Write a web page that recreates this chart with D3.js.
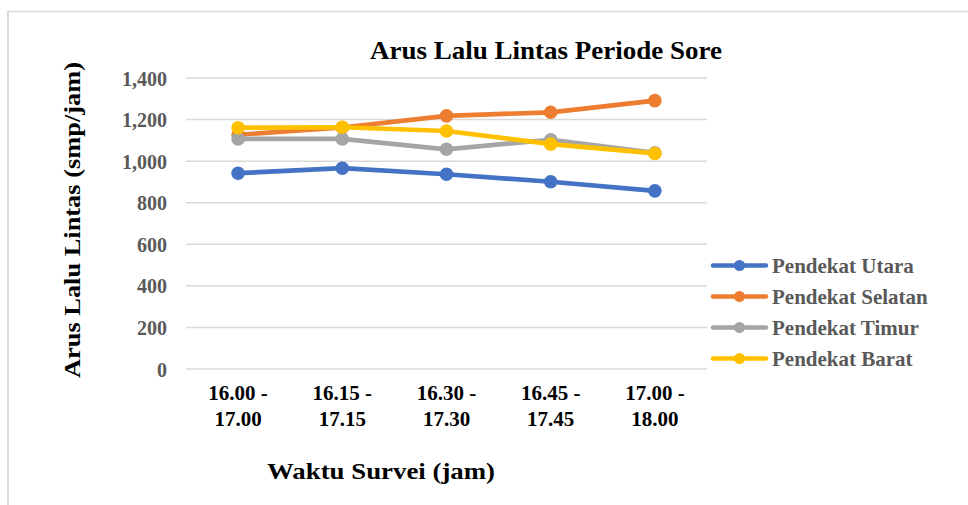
<!DOCTYPE html>
<html>
<head>
<meta charset="utf-8">
<script src="https://cdn.jsdelivr.net/npm/d3@7/dist/d3.min.js"></script>
<style>
  html, body { margin: 0; padding: 0; background: #fff; }
  svg { display: block; }
</style>
</head>
<body>
<svg id="chart" width="968" height="505"></svg>
<script>
// Survey intervals (two-line labels)
const categories = ["16.00 - 17.00", "16.15 - 17.15", "16.30 - 17.30", "16.45 - 17.45", "17.00 - 18.00"];
const seriesNames = ["Pendekat Utara", "Pendekat Selatan", "Pendekat Timur", "Pendekat Barat"];
const utara   = [942, 966, 937, 901, 857];
const selatan = [1127, 1162, 1218, 1235, 1291];
const timur   = [1107, 1107, 1057, 1103, 1040];
const barat   = [1161, 1163, 1145, 1082, 1037];
const yTicks  = [0, 200, 400, 600, 800, 1000, 1200, 1400];
const colors  = ["#4472C4", "#ED7D31", "#A5A5A5", "#FFC000"];

const seriesValues = [utara, selatan, timur, barat];
const FONT = '"Liberation Serif"';

const svg = d3.select("#chart");
const label = (sel, size, fill) => sel.style("font-family", FONT).style("font-weight", "bold")
  .style("font-size", size + "px").attr("fill", fill);

// Outer frame
svg.append("line").attr("x1", 8).attr("x2", 968).attr("y1", 11.5).attr("y2", 11.5)
  .attr("stroke", "#d9d9d9").attr("stroke-width", 1.5);
svg.append("line").attr("x1", 8).attr("x2", 8).attr("y1", 11).attr("y2", 505)
  .attr("stroke", "#d9d9d9").attr("stroke-width", 2);

const plot = { left: 186, right: 707, top: 78, bottom: 369 };

const x = d3.scaleBand().domain(categories).range([plot.left, plot.right]);
const y = d3.scaleLinear().domain([0, 1400]).range([plot.bottom, plot.top]);
const cx = d => x(d) + x.bandwidth() / 2;

// Gridlines
svg.append("g").selectAll("line").data(yTicks).join("line")
  .attr("x1", plot.left).attr("x2", plot.right)
  .attr("y1", d => y(d)).attr("y2", d => y(d))
  .attr("stroke", "#d9d9d9").attr("stroke-width", 1.5);

// Y axis tick labels
const yAxis = d3.axisLeft(y).tickValues(yTicks).tickSize(0).tickPadding(0)
  .tickFormat(d3.format(","));
const gy = svg.append("g").attr("transform", `translate(167,0)`).call(yAxis);
gy.select(".domain").remove();
gy.attr("font-family", null).attr("font-size", null);
label(gy.selectAll("text"), 20, "#595959").attr("dy", "0.35em");

// X axis tick labels (split over two lines)
const xAxis = d3.axisBottom(x).tickSize(0).tickFormat("");
const gx = svg.append("g").attr("transform", `translate(0,${plot.bottom})`).call(xAxis);
gx.select(".domain").remove();
gx.attr("font-family", null).attr("font-size", null);
gx.selectAll(".tick text").remove();
gx.selectAll(".tick").each(function(d) {
  const parts = d.split(" - ");
  const t = label(d3.select(this).append("text"), 21, "#000").attr("text-anchor", "middle");
  t.append("tspan").attr("x", 0).attr("y", 31).text(parts[0] + " -");
  t.append("tspan").attr("x", 0).attr("y", 57).text(parts[1]);
});

// Lines and markers
const line = d3.line().x((d, i) => cx(categories[i])).y(d => y(d));
seriesValues.forEach((vals, s) => {
  const g = svg.append("g");
  g.append("path").datum(vals).attr("d", line)
    .attr("fill", "none").attr("stroke", colors[s]).attr("stroke-width", 4.7)
    .attr("stroke-linejoin", "round").attr("stroke-linecap", "round");
  g.selectAll("circle").data(vals).join("circle")
    .attr("cx", (d, i) => cx(categories[i])).attr("cy", d => y(d))
    .attr("r", 6.8).attr("fill", colors[s]);
});

// Title
label(svg.append("text"), 25, "#000").attr("x", 546).attr("y", 59)
  .attr("text-anchor", "middle")
  .attr("textLength", 352).attr("lengthAdjust", "spacingAndGlyphs")
  .text("Arus Lalu Lintas Periode Sore");

// Axis titles
label(svg.append("text"), 24, "#000").attr("transform", "translate(80,220) rotate(-90)")
  .attr("text-anchor", "middle")
  .attr("textLength", 316).attr("lengthAdjust", "spacingAndGlyphs")
  .text("Arus Lalu Lintas (smp/jam)");
label(svg.append("text"), 23.5, "#000").attr("x", 381).attr("y", 479)
  .attr("text-anchor", "middle")
  .attr("textLength", 228).attr("lengthAdjust", "spacingAndGlyphs")
  .text("Waktu Survei (jam)");

// Legend
const legend = svg.append("g");
seriesNames.forEach((name, i) => {
  const ly = 265.5 + i * 31;
  legend.append("line").attr("x1", 713).attr("x2", 766).attr("y1", ly).attr("y2", ly)
    .attr("stroke", colors[i]).attr("stroke-width", 4.5).attr("stroke-linecap", "round");
  legend.append("circle").attr("cx", 739.5).attr("cy", ly).attr("r", 5.5).attr("fill", colors[i]);
  label(legend.append("text"), 21, "#595959").attr("x", 772).attr("y", ly).attr("dy", "0.35em")
    .text(name);
});
</script>
</body>
</html>
